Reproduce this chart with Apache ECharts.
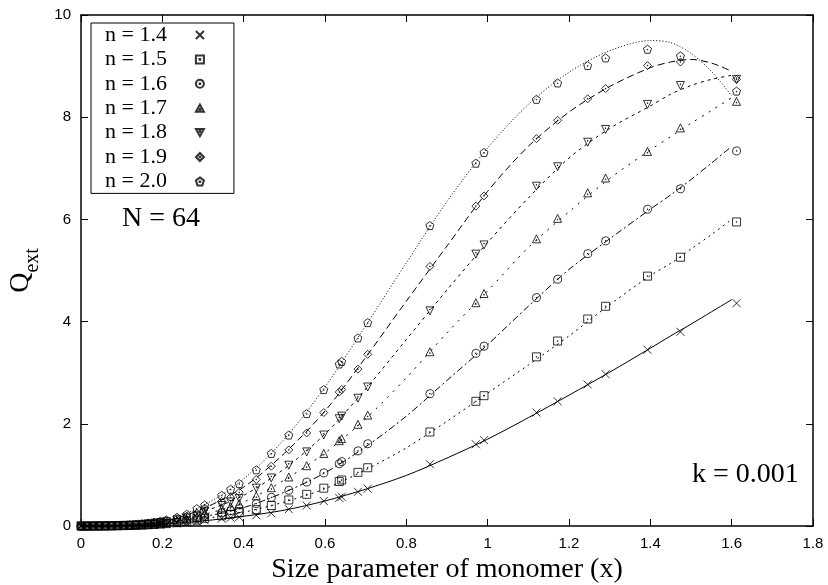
<!DOCTYPE html>
<html>
<head>
<meta charset="utf-8">
<script src="https://cdn.jsdelivr.net/npm/echarts@6/dist/echarts.min.js"></script>
<style>
html, body { margin: 0; padding: 0; background: #fff; }
#chart { width: 828px; height: 585px; }
</style>
</head>
<body>
<div id="chart"></div>
<script>
// x positions of the computed points (shared by all n)
const markerX = [0, 0.015, 0.03, 0.045, 0.06, 0.075, 0.09, 0.105, 0.12, 0.135, 0.15, 0.165, 0.18, 0.195,
  0.21, 0.236, 0.26, 0.285, 0.304, 0.346, 0.368, 0.389, 0.431, 0.468,
  0.511, 0.555, 0.597, 0.635, 0.641, 0.681, 0.705,
  0.858, 0.971, 0.991, 1.12, 1.172, 1.246, 1.29, 1.393, 1.474, 1.612];

const q14 = [0, 0, 0, 0.001, 0.002, 0.003, 0.004, 0.006, 0.008, 0.011, 0.014, 0.018, 0.024, 0.03,
  0.036, 0.05, 0.066, 0.085, 0.11, 0.145, 0.16, 0.175, 0.21, 0.25,
  0.33, 0.4, 0.49, 0.55, 0.57, 0.67, 0.73,
  1.21, 1.6, 1.68, 2.22, 2.44, 2.77, 2.97, 3.45, 3.8, 4.36];
const q15 = [0, 0, 0.001, 0.001, 0.002, 0.003, 0.005, 0.007, 0.01, 0.014, 0.018, 0.024, 0.03, 0.038,
  0.047, 0.065, 0.088, 0.115, 0.15, 0.2, 0.23, 0.26, 0.32, 0.4,
  0.51, 0.62, 0.74, 0.87, 0.9, 1.05, 1.14,
  1.84, 2.44, 2.55, 3.31, 3.62, 4.05, 4.3, 4.89, 5.26, 5.95];
const q16 = [0, 0, 0.001, 0.002, 0.003, 0.004, 0.006, 0.009, 0.012, 0.017, 0.022, 0.029, 0.037, 0.046,
  0.057, 0.08, 0.108, 0.14, 0.19, 0.26, 0.3, 0.34, 0.44, 0.56,
  0.7, 0.86, 1.04, 1.22, 1.26, 1.47, 1.61,
  2.59, 3.38, 3.52, 4.47, 4.83, 5.33, 5.58, 6.2, 6.6, 7.34];
const q17 = [0, 0, 0.001, 0.002, 0.003, 0.005, 0.007, 0.01, 0.014, 0.02, 0.027, 0.035, 0.045, 0.056,
  0.07, 0.1, 0.133, 0.175, 0.24, 0.33, 0.38, 0.44, 0.59, 0.75,
  0.96, 1.18, 1.42, 1.67, 1.71, 1.99, 2.17,
  3.41, 4.37, 4.55, 5.62, 6.02, 6.52, 6.81, 7.33, 7.79, 8.31];
const q18 = [0, 0, 0.001, 0.002, 0.004, 0.006, 0.008, 0.012, 0.017, 0.024, 0.032, 0.042, 0.054, 0.067,
  0.084, 0.12, 0.16, 0.21, 0.29, 0.4, 0.47, 0.54, 0.74, 0.94,
  1.19, 1.45, 1.78, 2.1, 2.15, 2.5, 2.72,
  4.21, 5.32, 5.5, 6.65, 7.03, 7.51, 7.76, 8.25, 8.62, 8.74];
const q19 = [0, 0, 0.001, 0.003, 0.004, 0.007, 0.01, 0.014, 0.02, 0.028, 0.037, 0.049, 0.063, 0.079,
  0.1, 0.14, 0.19, 0.25, 0.35, 0.48, 0.56, 0.66, 0.91, 1.17,
  1.49, 1.82, 2.22, 2.62, 2.67, 3.07, 3.36,
  5.08, 6.26, 6.46, 7.58, 7.94, 8.36, 8.56, 9.01, 9.08, 8.74];
const q20 = [0, 0, 0.002, 0.003, 0.005, 0.008, 0.012, 0.017, 0.024, 0.033, 0.044, 0.058, 0.075, 0.094,
  0.12, 0.17, 0.23, 0.34, 0.41, 0.6, 0.72, 0.83, 1.1, 1.42,
  1.78, 2.2, 2.67, 3.17, 3.22, 3.68, 3.98,
  5.88, 7.1, 7.31, 8.35, 8.67, 9.01, 9.16, 9.33, 9.2, 8.51];

// fitted curves
const curveX = [0, 0.1, 0.2, 0.3, 0.4, 0.5, 0.6, 0.7, 0.8, 0.9, 1.0, 1.1, 1.2, 1.3, 1.4, 1.45, 1.5, 1.55, 1.6];
const fit14 = [0, 0.005, 0.03, 0.1, 0.19, 0.31, 0.49, 0.72, 0.99, 1.33, 1.7, 2.12, 2.56, 3.01, 3.48, 3.72, 3.95, 4.19, 4.43];
const fit15 = [0, 0.006, 0.04, 0.14, 0.27, 0.47, 0.73, 1.1, 1.53, 2.05, 2.6, 3.15, 3.72, 4.33, 4.9, 5.14, 5.42, 5.7, 6.0];
const fit16 = [0, 0.007, 0.05, 0.18, 0.36, 0.66, 1.04, 1.55, 2.15, 2.85, 3.55, 4.3, 5.02, 5.62, 6.2, 6.48, 6.78, 7.1, 7.43];
const fit17 = [0, 0.008, 0.06, 0.22, 0.47, 0.9, 1.43, 2.1, 2.9, 3.78, 4.6, 5.45, 6.15, 6.8, 7.36, 7.62, 7.88, 8.13, 8.38];
const fit18 = [0, 0.01, 0.07, 0.28, 0.6, 1.12, 1.8, 2.68, 3.65, 4.62, 5.55, 6.42, 7.2, 7.78, 8.22, 8.45, 8.62, 8.74, 8.82];
const fit19 = [0, 0.012, 0.08, 0.34, 0.76, 1.42, 2.25, 3.3, 4.4, 5.48, 6.55, 7.43, 8.1, 8.6, 8.97, 9.08, 9.13, 9.06, 8.9];
const fit20 = [0, 0.015, 0.1, 0.4, 0.92, 1.7, 2.72, 3.92, 5.15, 6.35, 7.4, 8.25, 8.88, 9.3, 9.5, 9.46, 9.25, 8.9, 8.42];

const legendNames = ['n = 1.4', 'n = 1.5', 'n = 1.6', 'n = 1.7', 'n = 1.8', 'n = 1.9', 'n = 2.0'];

// hollow gnuplot-like point types, with a small dot in the middle
const DOT = ' M4.6,4.6H5.4V5.4H4.6Z';
const symbols = [
  'path://M0,0L10,10M10,0L0,10',
  'path://M0,0H10V10H0Z' + DOT,
  'path://M5,0A5,5 0 1,1 4.99,0Z' + DOT,
  'path://M5,0L10,9L0,9Z M4.6,5.6H5.4V6.4H4.6Z',
  'path://M0,1H10L5,10Z M4.6,3.6H5.4V4.4H4.6Z',
  'path://M5,0L10,5L5,10L0,5Z' + DOT,
  'path://M5,0L10,3.8L8.1,10L1.9,10L0,3.8Z M4.6,5.1H5.4V5.9H4.6Z'
];
const dashes = ['solid', [2, 4], [7, 3, 2, 3], [2, 6], [3, 4], [7, 4], [1, 2]];

const points = [q14, q15, q16, q17, q18, q19, q20];
const fits = [fit14, fit15, fit16, fit17, fit18, fit19, fit20];

const series = [];
legendNames.forEach((name, k) => {
  series.push({
    name: name + ' fit',
    type: 'line',
    data: curveX.map((x, i) => [x, fits[k][i]]),
    smooth: 0.3,
    showSymbol: false,
    silent: true,
    lineStyle: { color: '#000', width: 1, type: dashes[k] },
    z: 2
  });
  series.push({
    name: name,
    type: 'scatter',
    data: markerX.map((x, i) => [x, points[k][i]]),
    symbol: symbols[k],
    symbolSize: 8,
    itemStyle: { color: 'rgba(0,0,0,0)', borderColor: '#000', borderWidth: 1 },
    z: 3
  });
});

const serif = '"Liberation Serif", "DejaVu Serif", serif';
const sans = '"Liberation Sans", Arial, sans-serif';

const axisCommon = {
  axisLine: { onZero: false, lineStyle: { color: '#000', width: 1.5 } },
  axisTick: { inside: true, length: 7, lineStyle: { color: '#000', width: 1 } },
  splitLine: { show: false }
};

const chart = echarts.init(document.getElementById('chart'));
chart.setOption({
  animation: false,
  backgroundColor: '#fff',
  grid: { left: 81, right: 15, top: 15, bottom: 59, containLabel: false, outerBoundsMode: 'none' },
  legend: {
    data: legendNames,
    orient: 'vertical',
    left: 91,
    top: 23,
    align: 'right',
    itemWidth: 8,
    itemHeight: 8,
    itemGap: 2.4,
    padding: [1, 29, 1, 14],
    borderColor: '#000',
    borderWidth: 1,
    selectedMode: false,
    textStyle: { fontFamily: serif, fontSize: 22, lineHeight: 22, color: '#000', padding: [0, 24, 0, 0] }
  },
  xAxis: [
    Object.assign({
      type: 'value', min: 0, max: 1.8, interval: 0.2, position: 'bottom',
      axisLabel: { color: '#000', fontSize: 15, fontFamily: sans, margin: 10 },
      name: 'Size parameter of monomer (x)',
      nameLocation: 'middle',
      nameGap: 28,
      nameTextStyle: { fontFamily: serif, fontSize: 28, color: '#000' }
    }, axisCommon),
    Object.assign({
      type: 'value', min: 0, max: 1.8, interval: 0.2, position: 'top',
      axisLabel: { show: false }
    }, axisCommon)
  ],
  yAxis: [
    Object.assign({
      type: 'value', min: 0, max: 10, interval: 2, position: 'left',
      axisLabel: { color: '#000', fontSize: 15, fontFamily: sans, margin: 10 },
      name: '{a|Q}{b|ext}',
      nameLocation: 'middle',
      nameRotate: 90,
      nameGap: 38,
      nameTextStyle: {
        color: '#000',
        rich: {
          a: { fontFamily: serif, fontSize: 28, color: '#000' },
          b: { fontFamily: serif, fontSize: 20, color: '#000', padding: [24, 0, 0, 0] }
        }
      }
    }, axisCommon),
    Object.assign({
      type: 'value', min: 0, max: 10, interval: 2, position: 'right',
      axisLabel: { show: false }
    }, axisCommon)
  ],
  graphic: [
    { type: 'text', left: 122, top: 205, style: { text: 'N = 64', font: '28px ' + serif, fill: '#000' } },
    { type: 'text', left: 692, top: 461, style: { text: 'k = 0.001', font: '28px ' + serif, fill: '#000' } }
  ],
  series: series
});
</script>
</body>
</html>
